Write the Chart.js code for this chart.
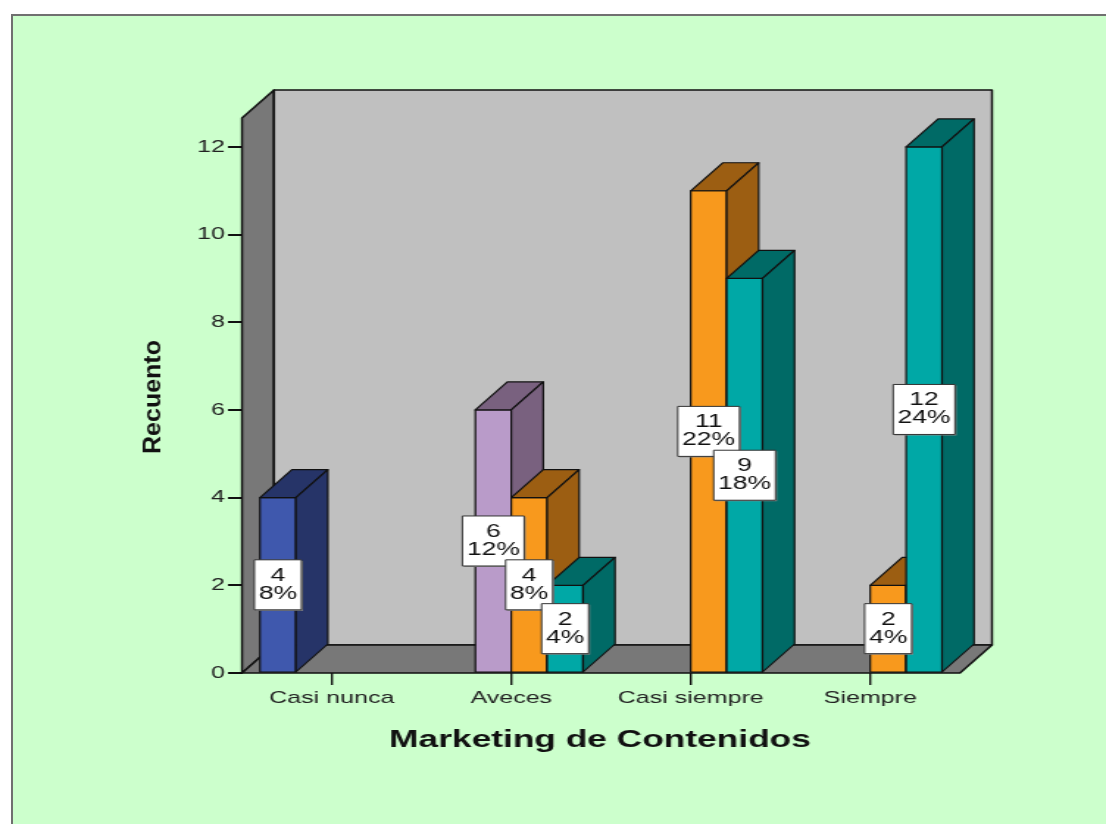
<!DOCTYPE html>
<html>
<head>
<meta charset="utf-8">
<script src="https://cdn.jsdelivr.net/npm/chart.js@4/dist/chart.umd.min.js"></script>
<style>
  html, body { margin: 0; padding: 0; background: #ffffff; overflow: hidden; }
  #frame {
    position: absolute; left: 11px; top: 14px; width: 1200px; height: 900px;
    background: #ccffcc; border: 2px solid #707070;
  }
  #wrap {
    position: absolute; left: 0; top: 0; width: 752px; height: 824px;
    transform: scaleX(1.4707); transform-origin: 0 0;
  }
</style>
</head>
<body>
<div id="frame"></div>
<div id="wrap"><canvas id="chart_canvas" width="752" height="824"></canvas></div>
<script>
// categorias del eje X
const categories = ['Casi nunca', 'Aveces', 'Casi siempre', 'Siempre'];

// recuentos por serie (null = sin barra)
const blueCounts   = [4, null, null, null];
const purpleCounts = [null, 6, null, null];
const orangeCounts = [null, 4, 11, 2];
const tealCounts   = [null, 2, 9, 12];

const totalCount = 50;
const yTicks = [0, 2, 4, 6, 8, 10, 12];

const xTitle = 'Marketing de Contenidos';
const yTitle = 'Recuento';

// the picture is stretched horizontally, so the canvas is drawn narrow and scaled
const SX = 1106 / 752;
const DX = 32 / SX;
const DY = 28;
const FONT = '"Liberation Sans", Arial, sans-serif';

const seriesStyle = [
    { front: '#3f58ad', dark: '#263468' },
    { front: '#b99bc9', dark: '#79617f' },
    { front: '#f8991d', dark: '#9c5e12' },
    { front: '#00a8a6', dark: '#006a66' }
];

function drawBar3d(ctx, p, style) {
    const l = p.x - p.width / 2, r = p.x + p.width / 2;
    ctx.lineWidth = 1.2;
    ctx.strokeStyle = '#111';
    ctx.lineJoin = 'round';
    // front
    ctx.fillStyle = style.front;
    ctx.fillRect(l, p.y, p.width, p.base - p.y);
    ctx.strokeRect(l, p.y, p.width, p.base - p.y);
    ctx.fillStyle = style.dark;
    // top face
    ctx.beginPath();
    ctx.moveTo(l, p.y);
    ctx.lineTo(r, p.y);
    ctx.lineTo(r + DX, p.y - DY);
    ctx.lineTo(l + DX, p.y - DY);
    ctx.closePath();
    ctx.fill();
    ctx.stroke();
    // side face
    ctx.beginPath();
    ctx.moveTo(r, p.y);
    ctx.lineTo(r, p.base);
    ctx.lineTo(r + DX, p.base - DY);
    ctx.lineTo(r + DX, p.y - DY);
    ctx.closePath();
    ctx.fill();
    ctx.stroke();
}

const spss3d = {
    id: 'spss3d',
    beforeDatasetsDraw(chart) {
        const ctx = chart.ctx;
        const { left, right, top, bottom } = chart.chartArea;
        ctx.save();
        ctx.lineWidth = 1.5;
        ctx.strokeStyle = '#111';
        ctx.lineJoin = 'round';

        // left wall
        ctx.beginPath();
        ctx.moveTo(left, bottom);
        ctx.lineTo(left, top);
        ctx.lineTo(left + DX, top - DY);
        ctx.lineTo(left + DX, bottom - DY);
        ctx.closePath();
        ctx.fillStyle = '#787878';
        ctx.fill();
        ctx.stroke();

        // back wall
        ctx.beginPath();
        ctx.rect(left + DX, top - DY, right - left, bottom - top);
        ctx.fillStyle = '#c0c0c0';
        ctx.fill();
        ctx.stroke();

        // floor
        ctx.beginPath();
        ctx.moveTo(left, bottom);
        ctx.lineTo(right, bottom);
        ctx.lineTo(right + DX, bottom - DY);
        ctx.lineTo(left + DX, bottom - DY);
        ctx.closePath();
        ctx.fillStyle = '#787878';
        ctx.fill();
        ctx.stroke();
        ctx.restore();
    },
    // bars are painted below, in dataset order, so later bars cover earlier sides
    beforeDatasetDraw() {
        return false;
    },
    afterDatasetsDraw(chart) {
        const ctx = chart.ctx;
        ctx.save();
        chart.data.datasets.forEach((ds, di) => {
            const meta = chart.getDatasetMeta(di);
            meta.data.forEach((el, i) => {
                if (ds.data[i] == null) return;
                drawBar3d(ctx, el.getProps(['x', 'y', 'base', 'width'], true), seriesStyle[di]);
            });
        });

        ctx.font = '18px ' + FONT;
        ctx.textAlign = 'center';
        ctx.textBaseline = 'middle';
        chart.data.datasets.forEach((ds, di) => {
            const meta = chart.getDatasetMeta(di);
            meta.data.forEach((el, i) => {
                const v = ds.data[i];
                if (v == null) return;
                const p = el.getProps(['x', 'y', 'base'], true);
                const lines = [String(v), Math.round(v / totalCount * 100) + '%'];
                const w = Math.max(...lines.map(t => ctx.measureText(t).width)) + 6;
                const h = 50;
                const cx = p.x, cy = (p.y + p.base) / 2;
                ctx.fillStyle = '#8a8a8a';
                ctx.fillRect(cx - w / 2 + 1, cy - h / 2 + 1, w, h);
                ctx.fillStyle = '#ffffff';
                ctx.fillRect(cx - w / 2, cy - h / 2, w, h);
                ctx.lineWidth = 1;
                ctx.strokeStyle = '#333';
                ctx.strokeRect(cx - w / 2, cy - h / 2, w, h);
                ctx.fillStyle = '#111';
                ctx.fillText(lines[0], cx, cy - 9);
                ctx.fillText(lines[1], cx, cy + 9);
            });
        });
        ctx.restore();
    },
    afterDraw(chart) {
        const ctx = chart.ctx;
        ctx.save();
        ctx.fillStyle = '#111';
        ctx.textAlign = 'center';
        ctx.textBaseline = 'middle';
        ctx.font = 'bold 24px ' + FONT;
        ctx.fillText(xTitle, 600 / SX, 740);

        ctx.translate(154 / SX, 397);
        ctx.scale(1 / SX, 1);
        ctx.rotate(-Math.PI / 2);
        ctx.font = 'bold 25px ' + FONT;
        ctx.fillText(yTitle, 0, 0);
        ctx.restore();
    }
};

function fnDrawChart() {
    const seriesData = [blueCounts, purpleCounts, orangeCounts, tealCounts];
    const datasets = seriesData.map((arr, i) => ({
        label: 'Serie ' + (i + 1),
        data: arr,
        backgroundColor: seriesStyle[i].front,
        borderColor: '#111',
        borderWidth: 1.2,
        borderSkipped: false
    }));

    const left = 242 / SX;
    const right = 960 / SX;

    new Chart(document.getElementById('chart_canvas'), {
        type: 'bar',
        data: { labels: categories, datasets: datasets },
        options: {
            responsive: false,
            animation: false,
            layout: {
                padding: { left: 0, top: 118, right: 752 - right, bottom: 0 }
            },
            datasets: {
                bar: { categoryPercentage: 0.8, barPercentage: 1.0 }
            },
            plugins: {
                legend: { display: false },
                tooltip: { enabled: false }
            },
            scales: {
                x: {
                    grid: {
                        offset: false,
                        drawOnChartArea: false,
                        drawTicks: true,
                        tickLength: 12,
                        color: '#111',
                        lineWidth: 1.4
                    },
                    border: { display: false },
                    ticks: {
                        padding: 3,
                        color: '#222',
                        font: { family: FONT, size: 17 }
                    },
                    afterFit(scale) { scale.height = 824 - 673; }
                },
                y: {
                    min: 0,
                    max: 12.66,
                    afterBuildTicks(scale) {
                        scale.ticks = yTicks.map(v => ({ value: v }));
                    },
                    grid: {
                        drawOnChartArea: false,
                        drawTicks: true,
                        tickLength: 14 / SX,
                        color: '#111',
                        lineWidth: 2
                    },
                    border: { display: false },
                    ticks: {
                        padding: 2,
                        color: '#222',
                        font: { family: FONT, size: 17 }
                    },
                    afterFit(scale) { scale.width = left; }
                }
            }
        },
        plugins: [spss3d]
    });
}

fnDrawChart();
</script>
</body>
</html>
